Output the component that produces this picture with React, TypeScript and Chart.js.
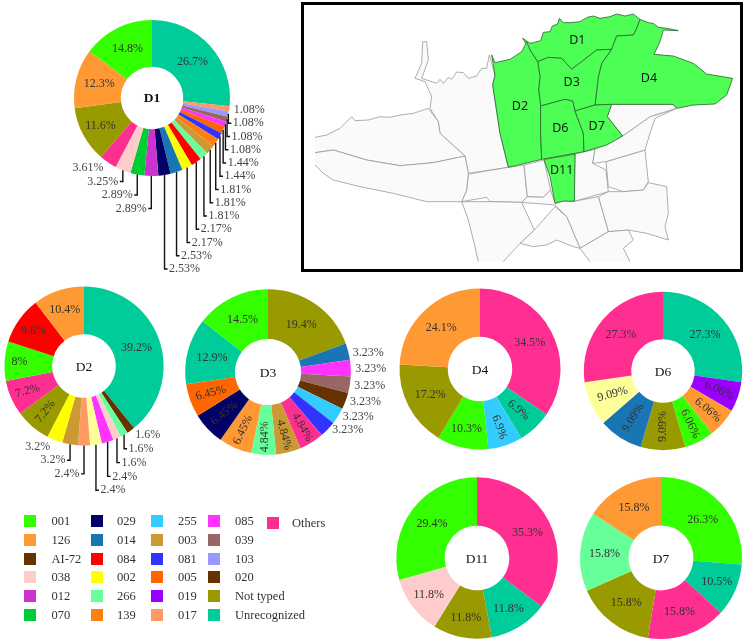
import React, { useEffect, useRef } from "react";
import { Chart, registerables } from "chart.js";

Chart.register(...registerables);

const colors: Record<string, string> = {
  "001": "#33FF00", "126": "#FF9933", "AI-72": "#663300", "038": "#FFCCCC", "012": "#CC33CC", "070": "#00CC33",
  "029": "#000066", "014": "#1A75B5", "084": "#FF0000", "002": "#FFFF00", "266": "#66FF99", "139": "#FF8010",
  "255": "#33CCFF", "003": "#CC9933", "081": "#3333FF", "005": "#FF6600", "019": "#9900FF", "017": "#FF9966",
  "085": "#FF33FF", "039": "#996666", "103": "#9999FF", "020": "#663300", "Not typed": "#999900",
  "Unrecognized": "#00CC99", "Others": "#FF2F92", "Unlisted": "#FFFF99",
};

const legendColumns = [
  ["001", "126", "AI-72", "038", "012", "070"],
  ["029", "014", "084", "002", "266", "139"],
  ["255", "003", "081", "005", "019", "017"],
  ["085", "039", "103", "020", "Not typed", "Unrecognized"],
  ["Others"],
];

const d1Names = ["Unrecognized", "017", "103", "039", "085", "005", "081", "139", "003", "266", "084", "002", "014", "029", "012", "070", "038", "Others", "Not typed", "126", "001"];
const d1Values = [26.7, 1.08, 1.08, 1.08, 1.08, 1.44, 1.44, 1.81, 1.81, 1.81, 2.17, 2.17, 2.53, 2.53, 2.89, 2.89, 3.25, 3.61, 11.6, 12.3, 14.8];
const d2Names = ["Unrecognized", "AI-72", "266", "038", "085", "Unlisted", "017", "003", "002", "Not typed", "Others", "001", "084", "126"];
const d2Values = [39.2, 1.6, 1.6, 1.6, 2.4, 2.4, 2.4, 3.2, 3.2, 7.2, 7.2, 8, 9.6, 10.4];
const d3Names = ["Not typed", "014", "085", "039", "020", "255", "081", "Others", "003", "266", "126", "029", "005", "Unrecognized", "001"];
const d3Values = [19.4, 3.23, 3.23, 3.23, 3.23, 3.23, 3.23, 4.84, 4.84, 4.84, 6.45, 6.45, 6.45, 12.9, 14.5];
const d4Names = ["Others", "Unrecognized", "255", "001", "Not typed", "126"];
const d4Values = [34.5, 6.9, 6.9, 10.3, 17.2, 24.1];
const d6Names = ["Unrecognized", "019", "126", "001", "Not typed", "014", "Unlisted", "Others"];
const d6Values = [27.3, 6.06, 6.06, 6.06, 9.09, 9.09, 9.09, 27.3];
const d11Names = ["Others", "Unrecognized", "Not typed", "038", "001"];
const d11Values = [35.3, 11.8, 11.8, 11.8, 29.4];
const d7Names = ["001", "Unrecognized", "Others", "Not typed", "266", "126"];
const d7Values = [26.3, 10.5, 15.8, 15.8, 15.8, 15.8];

// Map outlines, one small list per district.
const mapD1 = [[668,115],[690,130],[700,128],[722,122],[730,97],[750,95],[757,78],[773,72],[778,55],[790,68],[810,68],[840,65],[862,52],[880,48],[900,55],[930,50],[950,42],[975,48],[1000,42],[1020,58],[1010,85],[1000,105],[950,108],[935,148],[890,150],[815,208],[785,175],[745,172],[713,185],[690,150]];
const mapD4 = [[1020,58],[1045,68],[1060,70],[1075,82],[1100,85],[1135,92],[1090,90],[1080,125],[1062,163],[1120,168],[1180,190],[1220,222],[1298,235],[1280,285],[1245,312],[1180,315],[1130,325],[1120,313],[935,313],[885,315],[895,230],[905,190],[935,148],[950,108],[1000,105],[1010,85]];
const mapD3 = [[713,185],[745,172],[785,175],[815,208],[890,150],[935,148],[905,190],[895,230],[885,315],[825,333],[818,303],[795,298],[722,318],[716,270],[720,230]];
const mapD2 = [[575,165],[585,188],[630,178],[665,155],[680,125],[690,150],[713,185],[720,230],[716,270],[722,318],[722,400],[725,478],[625,502],[600,400],[578,255],[585,225]];
const mapD6 = [[722,318],[795,298],[818,303],[825,333],[850,400],[852,455],[725,478],[722,400]];
const mapD7 = [[825,333],[885,315],[935,313],[922,350],[968,408],[920,435],[852,455],[850,400]];
const mapD11 = [[732,478],[825,462],[823,604],[790,603],[765,610],[750,530]];
const greyAreas = [
  [[390,325],[395,290],[375,245],[345,235],[365,190],[368,125],[380,125],[385,180],[365,235],[410,250],[420,238],[430,250],[445,232],[455,238],[470,216],[490,218],[505,235],[530,228],[545,205],[560,205],[568,165],[585,225],[578,255],[600,400],[625,502],[505,520],[495,468],[420,400],[415,365]],
  [[505,522],[625,502],[672,495],[682,590],[665,607],[570,605],[560,592],[485,605],[500,570]],
  [[672,495],[732,480],[752,570],[730,592],[682,590]],
  [[825,462],[885,448],[878,490],[918,510],[925,575],[823,604]],
  [[918,485],[1035,450],[1045,545],[1030,570],[970,575],[925,560]],
  [[885,448],[968,408],[1050,350],[1130,325],[1065,355],[1050,400],[1035,450],[918,485],[878,490]],
  [[935,313],[1120,313],[1130,325],[1050,350],[968,408],[922,350]],
  [[1045,548],[1100,560],[1105,640],[1095,680],[1105,720],[1040,700],[985,690],[925,695],[895,590],[925,575],[970,575],[1030,570]],
  [[665,607],[682,590],[730,592],[752,570],[765,610],[790,603],[823,604],[895,590],[925,695],[840,745],[800,650],[765,615]],
  [[703,690],[765,620],[800,650],[840,745],[820,740],[770,720],[740,735],[700,740],[660,730]],
];
// These run off the edge of the map: the closing side is filled but has no outline.
const greyOpenAreas = [
  [[45,412],[80,405],[120,385],[155,350],[165,362],[205,360],[240,350],[270,352],[300,345],[340,340],[385,325],[415,365],[420,400],[495,468],[400,488],[300,497],[200,480],[100,450],[45,458]],
  [[45,458],[100,450],[200,480],[300,497],[400,488],[495,468],[505,520],[500,570],[485,605],[380,605],[280,580],[180,560],[100,540],[70,520],[45,495]],
  [[535,785],[520,720],[505,660],[485,605],[570,605],[665,607],[703,690],[660,730],[610,785]],
  [[870,785],[840,745],[925,695],[985,690],[1000,720],[970,745],[990,785]],
];
const greenAreas = [mapD1, mapD4, mapD3, mapD2, mapD6, mapD7, mapD11];
const mapLabels = ["D1", "D4", "D3", "D2", "D6", "D7", "D11"];
const mapLabelSpots = [[832,120],[1047,234],[815,248],[660,319],[781,385],[890,378],[785,510]];

// Slice label layout: slice index -> y offset from the ring centre and which side, with or without a leader.
type Callout = { i: number; dy: number; side: "l" | "r"; leader: boolean };
const d1Callouts: Callout[] = [
  ...[1, 2, 3, 4, 5, 6, 7, 8, 9, 10, 11, 12, 13].map((i, k) => ({ i, dy: 12 + 13.25 * k, side: "r" as const, leader: k > 0 })),
  ...[17, 16, 15, 14].map((i, k) => ({ i, dy: 70 + 13.5 * k, side: "l" as const, leader: k > 0 })),
];
const d2Callouts: Callout[] = [
  ...[1, 2, 3, 4, 5].map((i, k) => ({ i, dy: 69 + 13.8 * k, side: "r" as const, leader: k > 0 })),
  ...[8, 7, 6].map((i, k) => ({ i, dy: 80.5 + 13.7 * k, side: "l" as const, leader: k > 0 })),
];
const d3Callouts: Callout[] = [1, 2, 3, 4, 5, 6].map((i) => ({ i, dy: NaN, side: "r" as const, leader: false }));

const d2Turns: Record<number, number> = { 9: -52, 10: -15 };
const d3Turns: Record<number, number> = { 7: 60, 8: 75, 9: -90, 10: -65, 11: -40, 12: -15 };
const d4Turns: Record<number, number> = { 1: 40, 2: 70 };
const d6Turns: Record<number, number> = { 1: 25, 2: 40, 3: 65, 4: -90, 5: -58, 6: -15 };

// Extra distance (px) of a slice's label beyond the middle of the ring.
const d1Push: Record<number, number> = { 18: 4 };
const d2Push: Record<number, number> = { 9: 4, 10: 6, 11: 9, 12: 6, 13: 4 };
const d3Push: Record<number, number> = { 7: 7, 8: 7, 9: 7, 10: 5, 11: 2, 12: 3 };
const d4Push: Record<number, number> = { 2: 5, 3: 5 };
const d6Push: Record<number, number> = { 1: 4, 2: 4, 3: 4 };
const d11Push: Record<number, number> = { 1: 3, 2: 4, 3: 4 };
const d7Push: Record<number, number> = { 1: 4 };

const FONT = '"Liberation Serif", serif';

const ringText = {
  id: "ringText",
  afterDatasetsDraw(chart: any, _a: any, o: any) {
    const { ctx } = chart;
    const arcs = chart.getDatasetMeta(0).data;
    const values: number[] = chart.data.datasets[0].data;
    const callouts = new Map<number, Callout>((o.callouts || []).map((c: Callout) => [c.i, c]));
    ctx.save();
    ctx.textBaseline = "middle";
    arcs.forEach((arc: any, i: number) => {
      const mid = (arc.startAngle + arc.endAngle) / 2;
      const text = `${values[i]}%`;
      const c = callouts.get(i);
      ctx.font = `12px ${FONT}`;
      if (c) {
        const ox = arc.x + Math.cos(mid) * arc.outerRadius;
        const oy = arc.y + Math.sin(mid) * arc.outerRadius;
        const ly = Number.isNaN(c.dy) ? oy + 1 : arc.y + c.dy;
        if (c.leader) {
          const dir = c.side === "r" ? 3 : -3;
          ctx.strokeStyle = "#111";
          ctx.lineWidth = 1.4;
          ctx.beginPath();
          ctx.moveTo(ox, oy);
          ctx.lineTo(ox, ly);
          ctx.lineTo(ox + dir, ly);
          ctx.stroke();
        }
        ctx.fillStyle = "#444";
        ctx.textAlign = c.side === "r" ? "left" : "right";
        ctx.fillText(text, ox + (c.side === "r" ? 4.5 : -4.5), ly);
      } else {
        const r = (arc.innerRadius + arc.outerRadius) / 2 + (o.push?.[i] || 0);
        ctx.save();
        ctx.translate(arc.x + Math.cos(mid) * r, arc.y + Math.sin(mid) * r);
        ctx.rotate(((o.turns?.[i] || 0) * Math.PI) / 180);
        ctx.fillStyle = "#333";
        ctx.textAlign = "center";
        ctx.fillText(text, 0, 0);
        ctx.restore();
      }
    });
    const first = arcs[0];
    ctx.fillStyle = "#111";
    ctx.textAlign = "center";
    ctx.font = `${o.bold ? "bold " : ""}13.5px ${FONT}`;
    ctx.fillText(o.title, first.x, first.y + 1);
    ctx.restore();
  },
};

const polygonFill = {
  id: "polygonFill",
  afterDatasetsDraw(chart: any) {
    const { ctx, scales } = chart;
    ctx.save();
    chart.data.datasets.forEach((ds: any, n: number) => {
      const pts = chart.getDatasetMeta(n).data;
      const trace = () => {
        ctx.beginPath();
        pts.forEach((p: any, k: number) => (k ? ctx.lineTo(p.x, p.y) : ctx.moveTo(p.x, p.y)));
      };
      trace();
      ctx.closePath();
      ctx.fillStyle = ds.backgroundColor;
      ctx.fill();
      trace();
      if (!ds.openEdge) ctx.closePath();
      ctx.strokeStyle = ds.borderColor;
      ctx.lineWidth = 0.8;
      ctx.lineJoin = "round";
      ctx.stroke();
    });
    ctx.fillStyle = "#1a1a1a";
    ctx.font = '12.5px "Noto Sans", sans-serif';
    ctx.textAlign = "center";
    ctx.textBaseline = "middle";
    mapLabels.forEach((t, k) => {
      ctx.fillText(t, scales.x.getPixelForValue(mapLabelSpots[k][0]), scales.y.getPixelForValue(mapLabelSpots[k][1]));
    });
    ctx.restore();
  },
};

type RingProps = { names: string[]; values: number[]; title: string; cx: number; cy: number; radius: number; half: number; turns?: Record<number, number>; push?: Record<number, number>; callouts?: Callout[]; bold?: boolean };

function Ring({ names, values, title, cx, cy, radius, half, turns, push, callouts, bold }: RingProps) {
  const ref = useRef<HTMLCanvasElement>(null);
  useEffect(() => {
    const chart = new Chart(ref.current!, {
      type: "doughnut",
      data: { labels: names, datasets: [{ data: values, backgroundColor: names.map((n) => colors[n]), borderWidth: 0 }] },
      options: {
        animation: false,
        responsive: false,
        radius,
        cutout: "40%",
        layout: { padding: 0 },
        plugins: { legend: { display: false }, tooltip: { enabled: false }, ringText: { title, turns, push, callouts, bold } } as any,
      },
      plugins: [ringText],
    });
    return () => chart.destroy();
  }, []);
  return <canvas ref={ref} width={half * 2} height={half * 2} style={{ position: "absolute", left: cx - half, top: cy - half, width: half * 2, height: half * 2 }} />;
}

function MapPanel() {
  const ref = useRef<HTMLCanvasElement>(null);
  useEffect(() => {
    const toPts = (a: number[][]) => a.map(([x, y]) => ({ x, y }));
    const chart = new Chart(ref.current!, {
      type: "scatter",
      data: {
        datasets: [
          ...greyAreas.map((a) => ({ data: toPts(a), backgroundColor: "#FAFAFA", borderColor: "#999", pointRadius: 0, showLine: false })),
          ...greyOpenAreas.map((a) => ({ data: toPts(a), backgroundColor: "#FAFAFA", borderColor: "#999", pointRadius: 0, showLine: false, openEdge: true })),
          ...greenAreas.map((a) => ({ data: toPts(a), backgroundColor: "#4DFF55", borderColor: "#2f5f33", pointRadius: 0, showLine: false })),
        ] as any,
      },
      options: {
        animation: false,
        responsive: false,
        layout: { padding: 0 },
        scales: {
          x: { type: "linear", min: 12, max: 1320, display: false },
          y: { type: "linear", min: 15, max: 807, reverse: true, display: false },
        },
        plugins: { legend: { display: false }, tooltip: { enabled: false } },
      },
      plugins: [polygonFill],
    });
    return () => chart.destroy();
  }, []);
  return (
    <div style={{ position: "absolute", left: 301, top: 2, width: 436, height: 264, border: "3px solid #000", boxSizing: "content-box" }}>
      <canvas ref={ref} width={436} height={264} style={{ display: "block", width: 436, height: 264 }} />
    </div>
  );
}

const legendSwatchX = [24, 91, 151, 208, 267];
const legendTextX = [51.5, 117, 178, 235, 292];
const legendRowY = [521, 540, 558.5, 577, 596, 615];

function Legend() {
  return (
    <>
      {legendColumns.flatMap((col, c) =>
        col.map((name, r) => {
          const y = legendRowY[r] + (c === 4 ? 2 : 0);
          return (
            <React.Fragment key={name}>
              <div style={{ position: "absolute", left: legendSwatchX[c], top: y - 6, width: 12, height: 12, background: colors[name] }} />
              <div style={{ position: "absolute", left: legendTextX[c], top: y - 8, height: 16, font: `12.5px/16px ${FONT}`, color: "#333", whiteSpace: "nowrap" }}>{name}</div>
            </React.Fragment>
          );
        })
      )}
    </>
  );
}

export default function App() {
  return (
    <div style={{ position: "absolute", left: 0, top: 0, width: 750, height: 644, overflow: "hidden", background: "#fff" }}>
      <MapPanel />
      <Ring names={d1Names} values={d1Values} title="D1" bold cx={152.3} cy={98} radius={78} half={185} push={d1Push} callouts={d1Callouts} />
      <Ring names={d2Names} values={d2Values} title="D2" cx={83.7} cy={365.5} radius={79.6} half={140} turns={d2Turns} push={d2Push} callouts={d2Callouts} />
      <Ring names={d3Names} values={d3Values} title="D3" cx={267.8} cy={372.2} radius={82.8} half={125} turns={d3Turns} push={d3Push} callouts={d3Callouts} />
      <Ring names={d4Names} values={d4Values} title="D4" cx={479.8} cy={369.3} radius={80.5} half={90} turns={d4Turns} push={d4Push} />
      <Ring names={d6Names} values={d6Values} title="D6" cx={662.5} cy={371.2} radius={79.2} half={90} turns={d6Turns} push={d6Push} />
      <Ring names={d11Names} values={d11Values} title="D11" cx={477} cy={558.3} radius={80.7} half={90} push={d11Push} />
      <Ring names={d7Names} values={d7Values} title="D7" cx={661.2} cy={558} radius={81} half={90} push={d7Push} />
      <Legend />
    </div>
  );
}
